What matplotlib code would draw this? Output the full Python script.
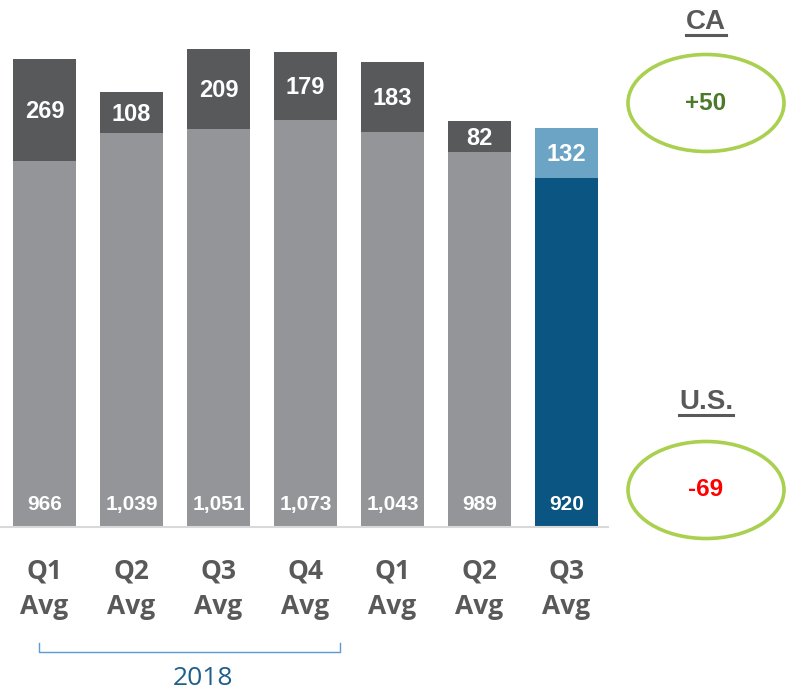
import matplotlib.pyplot as plt
from matplotlib.patches import Ellipse
from matplotlib.lines import Line2D

# data
quarters = ['Q1\nAvg', 'Q2\nAvg', 'Q3\nAvg', 'Q4\nAvg', 'Q1\nAvg', 'Q2\nAvg', 'Q3\nAvg']
us_vals = [966, 1039, 1051, 1073, 1043, 989, 920]
ca_vals = [269, 108, 209, 179, 183, 82, 132]
ca_change = '+50'
us_change = '-69'
year_label = '2018'

W, H = 788, 692
fig = plt.figure(figsize=(W / 100, H / 100), dpi=100)

def fx(px):
    return px / W

def fy(py):
    # py measured from top
    return 1 - py / H

ax = fig.add_axes([0, fy(527), fx(608), 527 / H])

grey = '#939598'
dark = '#58595b'
navy = '#0b5583'
light = '#6ca4c5'

x = list(range(len(quarters)))
bot_colors = [grey] * 6 + [navy]
top_colors = [dark] * 6 + [light]
bw = 0.724
ax.bar(x, us_vals, width=bw, color=bot_colors)
ax.bar(x, ca_vals, width=bw, bottom=us_vals, color=top_colors)

for i in x:
    lab = f'{us_vals[i]:,}'
    ax.text(i, 60, lab, ha='center', va='center', color='white',
            fontsize=15, fontweight='bold', family='Liberation Sans')
    ax.text(i, us_vals[i] + ca_vals[i] / 2 - 4, str(ca_vals[i]), ha='center',
            va='center', color='white', fontsize=17, fontweight='bold',
            family='Liberation Sans')

ax.set_xlim(-0.511, 6.477)
ax.set_ylim(0, 1390)
ax.set_yticks([])
for s in ['top', 'right', 'left']:
    ax.spines[s].set_visible(False)
ax.spines['bottom'].set_color('#d9d9d9')
ax.spines['bottom'].set_linewidth(1.5)
ax.set_xticks(x)
ax.set_xticklabels(quarters, fontsize=19, fontweight='bold', color='#595959',
                   family='Open Sans', linespacing=1.4)
ax.tick_params(axis='x', length=0, pad=22)

# 2018 bracket
bx0, bx1 = fx(39), fx(340)
fig.add_artist(Line2D([bx0, bx0, bx1, bx1], [fy(643), fy(652), fy(652), fy(643)],
                      color='#5b9bd5', lw=1))
fig.text(fx(203), fy(685), year_label, ha='center', va='baseline',
         color='#1f5f8b', fontsize=19, family='Open Sans')

# right-hand annotations
green = '#a9d04f'
for title, ty, cy, val, vcol in [('CA', 22, 103, ca_change, '#4a7a2a'),
                                 ('U.S.', 402, 490, us_change, '#ff0000')]:
    t = fig.text(fx(706), fy(ty), title, ha='center', va='center',
                 color='#595959', fontsize=20, fontweight='bold',
                 family='Liberation Sans')
    fig.canvas.draw()
    bb = t.get_window_extent()
    fig.add_artist(Line2D([bb.x0 / W, bb.x1 / W], [fy(ty + 13)] * 2,
                          color='#595959', lw=2.2))
    fig.add_artist(Ellipse((fx(706), fy(cy)), fx(156), 97 / H, fill=False,
                           edgecolor=green, lw=2.6))
    fig.text(fx(706), fy(cy), val, ha='center', va='center', color=vcol,
             fontsize=17.5, fontweight='bold', family='Liberation Sans')

fig.savefig('out.png', dpi=100)
